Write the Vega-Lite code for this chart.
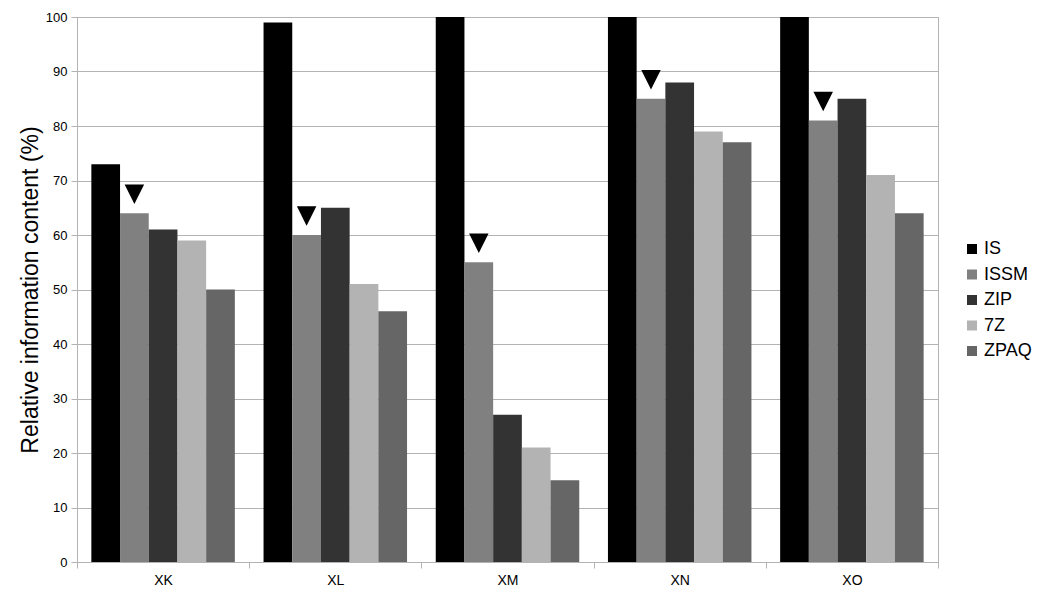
{
  "$schema": "https://vega.github.io/schema/vega-lite/v6.json",
  "width": 861,
  "height": 545,
  "autosize": "none",
  "padding": {"left": 77, "top": 17, "right": 106, "bottom": 36},
  "background": "white",
  "data": {
    "values": [
      {"file": "XK", "method": "IS", "pct": 73},
      {"file": "XK", "method": "ISSM", "pct": 64},
      {"file": "XK", "method": "ZIP", "pct": 61},
      {"file": "XK", "method": "7Z", "pct": 59},
      {"file": "XK", "method": "ZPAQ", "pct": 50},
      {"file": "XL", "method": "IS", "pct": 99},
      {"file": "XL", "method": "ISSM", "pct": 60},
      {"file": "XL", "method": "ZIP", "pct": 65},
      {"file": "XL", "method": "7Z", "pct": 51},
      {"file": "XL", "method": "ZPAQ", "pct": 46},
      {"file": "XM", "method": "IS", "pct": 100},
      {"file": "XM", "method": "ISSM", "pct": 55},
      {"file": "XM", "method": "ZIP", "pct": 27},
      {"file": "XM", "method": "7Z", "pct": 21},
      {"file": "XM", "method": "ZPAQ", "pct": 15},
      {"file": "XN", "method": "IS", "pct": 100},
      {"file": "XN", "method": "ISSM", "pct": 85},
      {"file": "XN", "method": "ZIP", "pct": 88},
      {"file": "XN", "method": "7Z", "pct": 79},
      {"file": "XN", "method": "ZPAQ", "pct": 77},
      {"file": "XO", "method": "IS", "pct": 100},
      {"file": "XO", "method": "ISSM", "pct": 81},
      {"file": "XO", "method": "ZIP", "pct": 85},
      {"file": "XO", "method": "7Z", "pct": 71},
      {"file": "XO", "method": "ZPAQ", "pct": 64}
    ]
  },
  "encoding": {
    "x": {
      "field": "file",
      "type": "nominal",
      "title": null,
      "scale": {"paddingInner": 0, "paddingOuter": 0},
      "axis": {
        "labelAngle": 0,
        "labelFontSize": 14,
        "labelFont": "Liberation Sans",
        "labelColor": "black",
        "labelPadding": 5,
        "tickBand": "extent",
        "tickSize": 6,
        "tickColor": "#b3b3b3",
        "domainColor": "#b3b3b3",
        "grid": false
      }
    },
    "xOffset": {
      "field": "method",
      "sort": ["IS", "ISSM", "ZIP", "7Z", "ZPAQ"],
      "scale": {"paddingInner": 0, "paddingOuter": 0.5}
    },
    "y": {
      "field": "pct",
      "type": "quantitative",
      "title": "Relative information content (%)",
      "scale": {"domain": [0, 100]},
      "axis": {
        "values": [0, 10, 20, 30, 40, 50, 60, 70, 80, 90, 100],
        "labelFontSize": 13,
        "labelFont": "Liberation Sans",
        "labelColor": "black",
        "labelPadding": 4,
        "tickSize": 6,
        "tickColor": "#b3b3b3",
        "domainColor": "#b3b3b3",
        "gridColor": "#b3b3b3",
        "titleFont": "Liberation Sans",
        "titleFontSize": 23,
        "titleFontWeight": "normal",
        "titleColor": "black",
        "titlePadding": 3
      }
    }
  },
  "layer": [
    {
      "mark": {"type": "bar"},
      "encoding": {
        "color": {
          "field": "method",
          "type": "nominal",
          "sort": ["IS", "ISSM", "ZIP", "7Z", "ZPAQ"],
          "scale": {
            "domain": ["IS", "ISSM", "ZIP", "7Z", "ZPAQ"],
            "range": ["#000000", "#808080", "#333333", "#b3b3b3", "#666666"]
          },
          "legend": {
            "title": null,
            "orient": "none",
            "legendX": 886,
            "legendY": 223,
            "symbolType": "square",
            "symbolSize": 100,
            "symbolStrokeWidth": 0,
            "labelFont": "Liberation Sans",
            "labelFontSize": 18,
            "labelColor": "black",
            "labelOffset": 3,
            "rowPadding": 7.5
          }
        }
      }
    },
    {
      "transform": [{"filter": "datum.method == 'ISSM'"}],
      "mark": {
        "type": "point",
        "shape": "M-1,-1L1,-1L0,1Z",
        "filled": true,
        "color": "black",
        "opacity": 1,
        "size": 380,
        "yOffset": -19
      }
    }
  ],
  "config": {
    "view": {"stroke": "#b3b3b3"}
  }
}
